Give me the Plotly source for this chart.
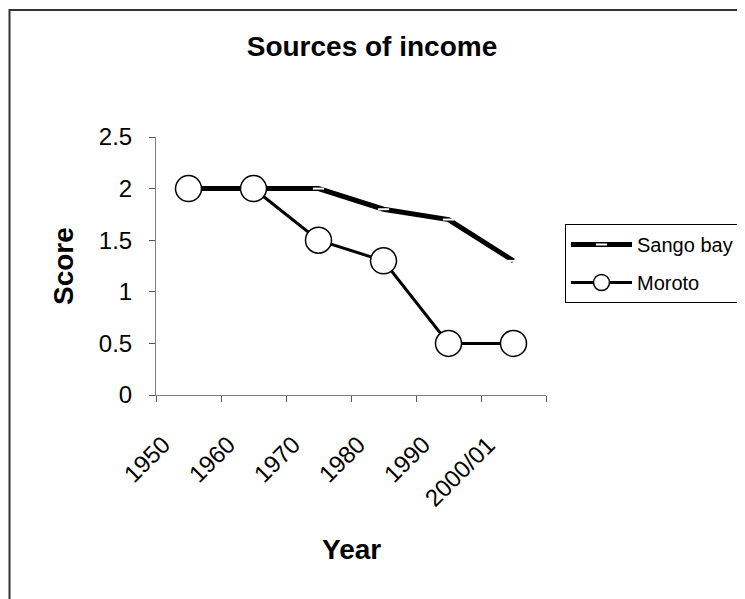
import plotly.graph_objects as go

years = ["1950", "1960", "1970", "1980", "1990", "2000/01"]
sango_bay = [2, 2, 2, 1.8, 1.7, 1.3]
moroto = [2, 2, 1.5, 1.3, 0.5, 0.5]

# page body has an 8px margin; work in reference-page pixels
OFF = 8
W, H = 745 - OFF, 599 - OFF
L, T = 156 - OFF, 137 - OFF
pw, ph = 390, 258
R, B = W - L - pw, H - T - ph


def px(x):
    return (x - OFF - L) / pw


def py(y):
    return (T + ph - (y - OFF)) / ph


fig = go.Figure()
fig.add_trace(go.Scatter(
    x=years, y=sango_bay, name="Sango bay", mode="lines+markers",
    line=dict(color="black", width=5),
    marker=dict(symbol="line-ew", size=8, color="white",
                line=dict(color="white", width=2)),
    legendgroup="a",
))
fig.add_trace(go.Scatter(
    x=years, y=moroto, name="Moroto", mode="lines+markers",
    line=dict(color="black", width=3),
    marker=dict(symbol="circle", size=26, color="white",
                line=dict(color="black", width=1.5)),
    legendgroup="b",
))

annotations = [
    dict(text="<b>Score</b>", xref="paper", yref="paper",
         x=px(63), y=py(266), textangle=-90, showarrow=False,
         xanchor="center", yanchor="middle",
         font=dict(size=28, color="black")),
    dict(text="<b>Year</b>", xref="paper", yref="paper",
         x=px(351), y=py(549), showarrow=False,
         xanchor="center", yanchor="middle",
         font=dict(size=28, color="black")),
]
for i, yr in enumerate(years):
    annotations.append(dict(
        text=yr, xref="x", yref="paper", x=i, y=py(428),
        xshift=-11, textangle=-45, showarrow=False,
        xanchor="right", yanchor="top",
        font=dict(size=24, color="black")))

fig.update_layout(
    width=W, height=H,
    margin=dict(l=L, r=R, t=T, b=B, autoexpand=False),
    paper_bgcolor="white", plot_bgcolor="white",
    font=dict(family="Liberation Sans, Arial, sans-serif", color="black"),
    title=dict(text="<b>Sources of income</b>",
               x=(372 - OFF) / W, xref="container", xanchor="center",
               y=1 - (46 - OFF) / H, yref="container", yanchor="middle",
               font=dict(size=28, color="black")),
    showlegend=True,
    legend=dict(x=px(565), y=py(224), xanchor="left", yanchor="top",
                bgcolor="white", bordercolor="black", borderwidth=1,
                font=dict(size=20, color="black"),
                itemwidth=61,
                traceorder="grouped", tracegroupgap=9),
    xaxis=dict(type="category", categoryorder="array", categoryarray=years,
               range=[-0.5, len(years) - 0.5],
               tickson="boundaries", ticks="outside",
               ticklen=6, tickcolor="#555", showticklabels=False,
               showline=True, linecolor="#808080", linewidth=1,
               showgrid=False, zeroline=False),
    yaxis=dict(range=[0, 2.5], dtick=0.5, tick0=0, ticks="outside",
               ticklen=6, tickcolor="#555",
               showline=True, linecolor="#808080", linewidth=1,
               showgrid=False, zeroline=False,
               ticklabelstandoff=12,
               tickfont=dict(size=24, color="black")),
    annotations=annotations,
    shapes=[
        dict(type="rect", xref="paper", yref="paper",
             x0=px(9.5), x1=px(800), y0=py(660), y1=py(10),
             line=dict(color="#333", width=2), layer="below"),
    ],
)

fig.write_html("out.html")
